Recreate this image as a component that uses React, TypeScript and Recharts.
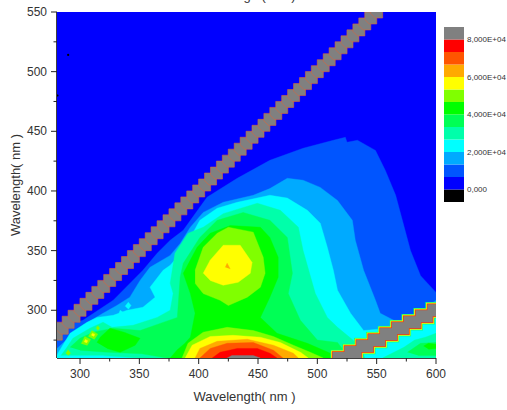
import React from "react";
import { ScatterChart, Scatter, XAxis, YAxis, Label, BarChart, Bar } from "recharts";

type P = [number, number];

const xTicks = [300, 325, 350, 375, 400, 425, 450, 475, 500, 525, 550, 575, 600];
const xMajor = [300, 350, 400, 450, 500, 550, 600];
const yTicks = [275, 300, 325, 350, 375, 400, 425, 450, 475, 500, 525, 550];
const yMajor = [300, 350, 400, 450, 500, 550];

const legendColors = ["#000000", "#0000ff", "#0055ff", "#00aaff", "#00ffff", "#00ffaa", "#00ff55", "#00ff00", "#80ff00", "#ffff00", "#ffaa00", "#ff5500", "#ff0000", "#808080"];
const legendTicks = [1, 4, 7, 10, 13];
const legendLabels = ["0,000", "2,000E+04", "4,000E+04", "6,000E+04", "8,000E+04"];

const level1: P[] = [[280.6, 260], [280.6, 550], [600, 550], [600, 260]];
const level2: P[] = [[280.6, 285], [302.5, 291.6], [328, 308.4], [353, 333.5], [365, 347.8], [376, 358.7], [387, 367], [407, 394.7], [432.5, 410.6], [460, 425.7], [488, 435.8], [513.5, 442.5], [523.6, 445], [525, 440.8], [533.8, 442.5], [549, 434], [557.4, 417], [566, 396.4], [578.5, 350], [587, 329], [600, 315], [600, 260], [280.6, 260]];
const level3: P[] = [[280.6, 268], [290, 276.5], [302.5, 287.4], [319.4, 297.5], [331, 304], [342, 311], [350.6, 325], [359, 336], [376, 346], [384.4, 356], [393, 369.6], [403.8, 382], [420.7, 390.5], [446, 396.4], [460, 402], [474.7, 410.6], [488, 409], [502.5, 403], [517, 392], [529.5, 375.4], [532, 358.7], [539, 333.5], [549, 308.4], [553, 297.5], [567.5, 290], [578.5, 291.6], [600, 308.4], [600, 260], [280.6, 260]];
const level4: P[] = [[280.6, 262], [281.4, 264], [291.6, 280.7], [306, 290], [314.3, 294], [328, 295.8], [339.7, 300], [353, 302.5], [363.3, 311], [359, 319.3], [370, 333.5], [376, 337.7], [387, 350], [393, 361], [401, 375.4], [415.6, 385.5], [432.5, 390.5], [460, 396.4], [474.7, 394], [491.6, 383.8], [502.5, 373], [508.4, 352.8], [513.5, 333.5], [517, 316.8], [528, 297.5], [539, 283], [560, 285], [600, 295], [600, 260], [280.6, 260]];
const holeA: P[] = [[332, 295], [333.8, 300], [338.8, 296.6], [337, 293.5]];
const holeB: P[] = [[338, 303.4], [340.7, 306.7], [343, 304], [340.7, 300.8]];
const level5: P[] = [[284, 262], [289, 269], [294, 276.5], [308.4, 285], [319.4, 290], [327, 285.7], [344.7, 287.4], [365, 294], [376, 300], [378.5, 314], [376, 322.6], [380, 347.8], [391, 364.5], [403.8, 369.6], [420.7, 381], [449.4, 389.7], [468.8, 383.8], [484, 369.6], [488, 350], [498.3, 314], [508.4, 294], [517, 285.7], [530, 275], [538, 266.5], [540, 260], [350.6, 260], [320, 262]];
const level5b: P[] = [[555, 260], [573, 269], [582, 275], [591, 277.4], [600, 280.7], [600, 260]];
const level6: P[] = [[291.6, 269], [300, 276.5], [311, 281.6], [328, 285], [350.6, 283], [367.5, 289], [382, 294], [384.4, 327.7], [387, 339.4], [401, 361], [415.6, 375.4], [437.5, 382], [460, 375.4], [474.7, 361], [479, 331], [475.5, 314], [485.7, 291.6], [500, 275], [517, 273], [522, 266.5], [528, 260], [373.4, 260], [352, 263.5], [320, 265], [300, 266.5]];
const level6b: P[] = [[576, 264.8], [587, 272.3], [600, 273], [600, 262], [585, 262]];
const level7: P[] = [[376, 260], [382, 267], [388, 272], [393, 277.4], [397, 297.5], [393, 314], [387, 331], [398.7, 352.8], [409.7, 364.5], [426.6, 371], [452, 369.6], [460, 361], [467, 344.4], [467, 327.7], [460, 311], [452, 294], [466, 280.7], [491.6, 272.3], [511, 264], [513.5, 260]];
const level7b: P[] = [[314.3, 273], [317, 277.4], [325.3, 285], [337, 281.6], [350.6, 276.5], [346.5, 270.7], [333.8, 264.8], [322.8, 268]];
const level7c: P[] = [[589.5, 270], [593.7, 272.3], [600, 271.5], [600, 268], [593.7, 267.3]];
const spot1: P[] = [[301, 272], [304, 278], [309, 275.5], [306, 270.5]];
const spot2: P[] = [[307, 278], [310, 283], [315, 280], [312, 275.5]];
const spot3: P[] = [[313.5, 285], [315, 287], [316.5, 285], [315, 283]];
const spot4: P[] = [[288, 264], [290, 267], [292, 264], [290, 262]];
const spot1Core: P[] = [[303.5, 273.5], [304.5, 275.5], [306.5, 274.5], [305.5, 272.5]];
const spot2Core: P[] = [[309.5, 279], [310.5, 280.8], [312.5, 279.8], [311.5, 278]];
const peakGreen: P[] = [[397, 333.5], [403.8, 352.8], [415.6, 364.5], [425, 369.6], [446, 365.5], [454.4, 344.4], [456, 331], [452, 319.3], [441, 311], [425, 304], [418, 308.4], [403.8, 314], [397, 322.6]];
const peakYellow: P[] = [[403.8, 331], [409.7, 342], [420.7, 354.5], [435, 354.5], [445, 340], [443.5, 331], [433.3, 323.5], [420.7, 321], [409.7, 325]];
const peakOrange: P[] = [[422.4, 336], [424, 339.4], [426.6, 334.5]];
const hillGreen: P[] = [[386, 260], [391, 272.3], [403.8, 281.6], [424, 285.7], [446, 283], [463, 278], [479.8, 270.7], [494, 264.8], [505, 260]];
const hillYellow: P[] = [[388.6, 260], [394.5, 270.7], [409.7, 278], [429, 279], [452, 277.4], [468.8, 273], [485.7, 264.8], [492.4, 260]];
const hillOrange: P[] = [[397, 260], [401, 268], [415.6, 274], [441, 275.7], [463, 270.7], [479.8, 264], [484, 260]];
const hillDeep: P[] = [[401, 260], [409.7, 268], [424, 272.3], [446, 273], [463, 266.5], [471, 260]];
const hillRed: P[] = [[411.4, 260], [418, 264.8], [432.5, 268], [449.4, 268], [460, 264], [466, 260]];
const hillGray: P[] = [[424, 260], [428, 262], [446, 262], [452, 260]];

const bands: [P[], string][] = [
  [level1, "#0000ff"], [level2, "#0055ff"], [level3, "#00aaff"], [level4, "#00ffff"], [holeA, "#00ffff"], [holeB, "#00ffff"],
  [level5, "#00ffaa"], [level5b, "#00ffaa"], [level6, "#00ff55"], [level6b, "#00ff55"],
  [level7, "#00ff00"], [level7b, "#00ff00"], [level7c, "#00ff00"],
  [spot1, "#80ff00"], [spot2, "#80ff00"], [spot3, "#80ff00"], [spot4, "#80ff00"], [spot1Core, "#ffff00"], [spot2Core, "#ffff00"],
  [peakGreen, "#80ff00"], [peakYellow, "#ffff00"], [peakOrange, "#ffaa00"],
  [hillGreen, "#80ff00"], [hillYellow, "#ffff00"], [hillOrange, "#ffaa00"], [hillDeep, "#ff5500"], [hillRed, "#ff0000"], [hillGray, "#808080"],
];

const firstOrder: P[] = [[280, 280], [285, 285], [290, 290], [295, 295], [300, 300], [305, 305], [310, 310], [315, 315], [320, 320], [325, 325], [330, 330], [335, 335], [340, 340], [345, 345], [350, 350], [355, 355], [360, 360], [365, 365], [370, 370], [375, 375], [380, 380], [385, 385], [390, 390], [395, 395], [400, 400], [405, 405], [410, 410], [415, 415], [420, 420], [425, 425], [430, 430], [435, 435], [440, 440], [445, 445], [450, 450], [455, 455], [460, 460], [465, 465], [470, 470], [475, 475], [480, 480], [485, 485], [490, 490], [495, 495], [500, 500], [505, 505], [510, 510], [515, 515], [520, 520], [525, 525], [530, 530], [535, 535], [540, 540], [545, 545], [550, 550]];
const secondOrder: P[] = [[520, 260], [530, 265], [540, 270], [550, 275], [560, 280], [570, 285], [580, 290], [590, 295], [600, 300]];
const specks: P[] = [[290, 514], [281, 480]];

const rows = (pts: P[]) => pts.map(([x, y]) => ({ x, y }));
const NoDot = () => null;
const FONT = "'Liberation Sans', Arial, sans-serif";

const Block = (p: any) => {
  const { cx, cy } = p;
  const h = 6, c = 4.5;
  const d = [[-h, -h], [h - c, -h], [h, -h + c], [h, h], [-h + c, h], [-h, h - c]].map(([a, b]) => `${cx + a},${cy + b}`).join(" ");
  return <polygon points={d} fill="#808080" stroke="#d8643c" strokeWidth={0.6} />;
};
const rim = (pad: number, color: string) => (p: any) => (
  <rect x={p.cx - 8.5 - pad} y={p.cy - 6 - pad} width={17 + 2 * pad} height={12 + 2 * pad} fill={color} />
);
const rims: [number, string][] = [[2.2, "#00ff80"], [1.5, "#ffff00"], [0.8, "#f04010"], [0, "#808080"]];
const Speck = (p: any) => <circle cx={p.cx} cy={p.cy} r={1.1} fill="#000" />;

const XTick = (p: any) => {
  const major = xMajor.includes(p.payload.value);
  return (
    <g>
      <line x1={p.x} x2={p.x} y1={p.y} y2={p.y + (major ? 6 : 3.5)} stroke="#222" strokeWidth={1} />
      {major && <text x={p.x} y={p.y + 20} textAnchor="middle" fontSize={12} fontFamily={FONT} fill="#333">{p.payload.value}</text>}
    </g>
  );
};
const YTick = (p: any) => {
  const major = yMajor.includes(p.payload.value);
  return (
    <g>
      <line x1={p.x - (major ? 6 : 3.5)} x2={p.x} y1={p.y} y2={p.y} stroke="#222" strokeWidth={1} />
      {major && <text x={p.x - 10} y={p.y + 4} textAnchor="end" fontSize={12} fontFamily={FONT} fill="#333">{p.payload.value}</text>}
    </g>
  );
};

const legendRow = [Object.fromEntries(legendColors.map((_, i) => [`c${i}`, 1]))];

export default function App() {
  return (
    <div style={{ position: "absolute", left: 0, top: 0, width: 507, height: 410, background: "#fff", overflow: "hidden" }}>
      <ScatterChart width={507} height={410} margin={{ top: 0, right: 71, bottom: 22, left: 7 }} style={{ position: "absolute", left: 0, top: 0 }}>
        <XAxis type="number" dataKey="x" domain={[280.6, 600]} ticks={xTicks} allowDataOverflow height={30} interval={0}
          tick={XTick} tickLine={false} tickSize={0} tickMargin={0} axisLine={{ stroke: "#000", strokeWidth: 1.5 }}>
          <Label value="Wavelength( nm )" position="insideBottom" offset={-13} dx={-2} fontSize={13} fontFamily={FONT} fill="#333" />
        </XAxis>
        <XAxis xAxisId="top" orientation="top" type="number" domain={[280.6, 600]} height={12} tick={false} tickLine={false} axisLine={false}>
          <Label value="Wavelength( nm )" position="insideTop" offset={-9} dx={-2} fontSize={13} fontFamily={FONT} fill="#333" />
        </XAxis>
        <YAxis type="number" dataKey="y" domain={[260, 550]} ticks={yTicks} allowDataOverflow width={50} interval={0}
          tick={YTick} tickLine={false} tickSize={0} tickMargin={0} axisLine={{ stroke: "#000", strokeWidth: 1.5 }}>
          <Label value="Wavelength( nm )" angle={-90} position="insideLeft" offset={8} fontSize={13} fontFamily={FONT} fill="#333" style={{ textAnchor: "middle" }} />
        </YAxis>
        {bands.map(([pts, color], i) => (
          <Scatter key={i} data={rows(pts)} line={{ fill: color, stroke: color, strokeWidth: 0.4 }} shape={NoDot} isAnimationActive={false} />
        ))}
        {rims.map(([pad, color]) => (
          <Scatter key={pad} data={rows(secondOrder)} shape={rim(pad, color)} isAnimationActive={false} />
        ))}
        <Scatter data={rows(firstOrder)} shape={Block} isAnimationActive={false} />
        <Scatter data={rows(specks)} shape={Speck} isAnimationActive={false} />
        <text x={391} y={36} textAnchor="middle" fontSize={23} fontWeight="bold" fontFamily={FONT} fill="#fff">b</text>
      </ScatterChart>
      <div style={{ position: "absolute", left: 444, top: 27 }}>
        <BarChart width={63} height={175} data={legendRow} margin={{ top: 0, right: 0, bottom: 0, left: 0 }} barCategoryGap={0}>
          <XAxis hide />
          <YAxis orientation="right" type="number" domain={[0, 14]} ticks={legendTicks} interval={0} width={43} tickLine={false} axisLine={false} tickMargin={3} tickSize={0}
            tick={{ fontSize: 8, fontFamily: FONT, fill: "#333" }}
            tickFormatter={(v: number) => legendLabels[legendTicks.indexOf(v)]} />
          {legendColors.map((c, i) => (
            <Bar key={c} dataKey={`c${i}`} stackId="s" fill={c} isAnimationActive={false} />
          ))}
        </BarChart>
      </div>
    </div>
  );
}
